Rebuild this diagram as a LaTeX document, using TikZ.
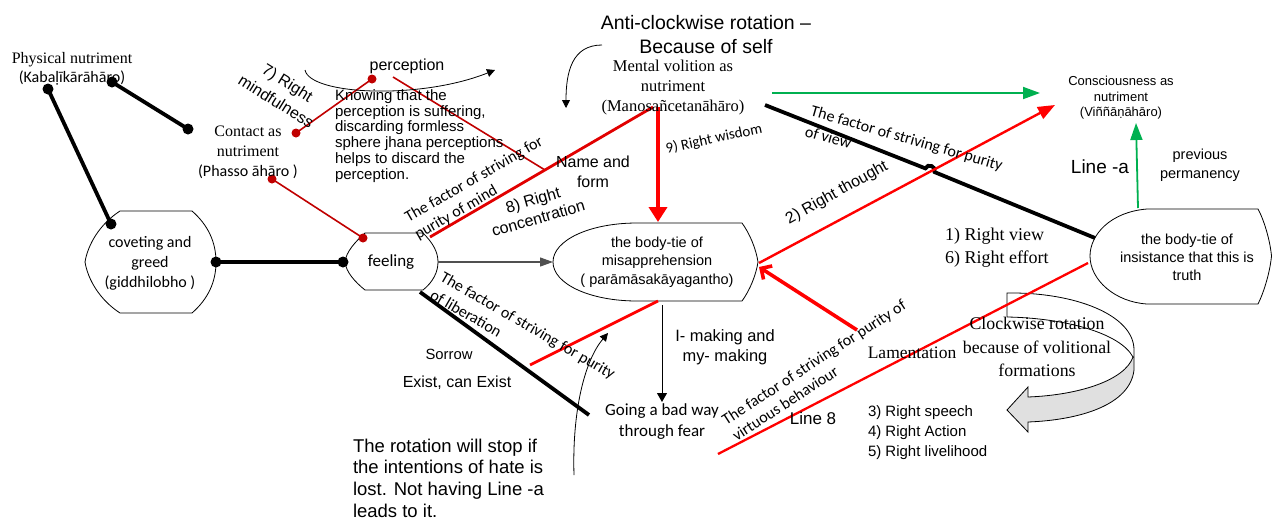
\documentclass[tikz,border=0pt]{standalone}
\usepackage{fontspec}
\setmainfont{Liberation Serif}
\newfontfamily\arialf{Liberation Sans}
\newfontfamily\calf{Carlito}
\usetikzlibrary{arrows.meta}
\newcommand\fsz[2]{\fontsize{#1}{#2}\selectfont}
\definecolor{dred}{RGB}{192,0,0}
\definecolor{bred}{RGB}{255,0,0}
\definecolor{mred}{RGB}{225,0,0}
\definecolor{grn}{RGB}{0,176,80}
\definecolor{gfill}{RGB}{224,224,224}
\definecolor{dgray}{RGB}{80,80,80}
\begin{document}
\begin{tikzpicture}[x=1pt,y=-1pt,
  every node/.style={inner sep=0pt,outer sep=0pt},
  shapeline/.style={draw=black,line width=0.8pt},
  thickblack/.style={line width=3.8pt,black},
  dotb/.style={circle,fill=black,minimum size=11pt},
  dotr/.style={circle,fill=dred,minimum size=9pt},
  thinred/.style={dred,line width=1.6pt},
  greenarrow/.style={grn,line width=1.8pt,-{Triangle[length=17pt,width=12pt]}},
  thinarrow/.style={black,line width=0.8pt,-{Triangle[length=8pt,width=8pt]}},
]
\useasboundingbox (0,0) rectangle (1272,520);

% ---------- shapes ----------
% coveting and greed
\draw[shapeline] (120,211) -- (192,211) .. controls (208,225) and (216,242) .. (216,262)
  .. controls (216,282) and (208,299) .. (192,313) -- (120,313)
  .. controls (100,300) and (88,280) .. (85,262) .. controls (88,244) and (100,224) .. (120,211) -- cycle;
% feeling
\draw[shapeline] (365,233) -- (423,233) .. controls (433,243) and (438,252) .. (438,262)
  .. controls (438,272) and (433,282) .. (423,290) -- (365,290)
  .. controls (355,282) and (346,272) .. (345,262) .. controls (346,252) and (355,242) .. (365,233) -- cycle;
% misapprehension
\draw[shapeline] (637,223) .. controls (590,223) and (553,240) .. (553,262)
  .. controls (553,284) and (590,301) .. (637,301) -- (742,301)
  .. controls (750,290) and (756,275) .. (758,262) .. controls (756,249) and (750,234) .. (742,223) -- cycle;
% insistance
\draw[shapeline] (1147,209) .. controls (1110,212) and (1090,235) .. (1090,256)
  .. controls (1090,280) and (1115,302) .. (1147,304) -- (1258,304)
  .. controls (1264,292) and (1270,272) .. (1271.5,256) .. controls (1270,240) and (1264,220) .. (1258,209) -- cycle;

% clockwise curved block arrow
\fill[gfill] (1133,357) .. controls (1125,380) and (1080,395) .. (1028,397) -- (1028,387) -- (1007,410)
  -- (1028,432) -- (1028,422) .. controls (1080,420) and (1130,405) .. (1134,370) -- (1134,357) -- cycle;
\draw[shapeline] (1007,293) .. controls (1075,292) and (1134,315) .. (1134,350) -- (1134,370)
  .. controls (1130,405) and (1080,420) .. (1028,422) -- (1028,432) -- (1007,410) -- (1028,387)
  -- (1028,397) .. controls (1080,395) and (1125,380) .. (1133,357)
  .. controls (1120,333) and (1065,318) .. (1007,317) -- cycle;

% ---------- coordinates ----------
\coordinate (mentBL) at (653,107);
\coordinate (mentB) at (658,107);
\coordinate (mentR) at (765,105);
\coordinate (mentG) at (772,93);
\coordinate (conscL) at (1040,93);
\coordinate (conscB) at (1136,123);
\coordinate (conscR) at (1055,105);
\coordinate (insT) at (1138,208);
\coordinate (insL) at (1095,238);
\coordinate (insLL) at (1088,263);
\coordinate (misL) at (553,262);
\coordinate (misR) at (759,263);
\coordinate (misRt) at (759,267);
\coordinate (misT) at (658,222);
\coordinate (misB) at (662,305);
\coordinate (misBR) at (658,301);
\coordinate (feelR) at (438,262);
\coordinate (feelTR) at (430,237);
\coordinate (feelBR) at (420,292);
\coordinate (nfEnd) at (545,170);
\coordinate (percR) at (393,77);
\coordinate (libEnd) at (589,415);
\coordinate (libRed) at (530,365);
\coordinate (virtS) at (718,454);
\coordinate (lamS) at (857,330);
\coordinate (goingT) at (662,402);

% ---------- dots ----------
\node[dotb] (dK1) at (48,89) {};
\node[dotb] (dK2) at (112,82) {};
\node[dotb] (dC) at (188,129) {};
\node[dotb] (dCov) at (111,224) {};
\node[dotb] (dCovR) at (216,262) {};
\node[dotb] (dFeelL) at (343,262) {};
\node[dotr] (dM1) at (296,133) {};
\node[dotr] (dP) at (372,79) {};
\node[dotr] (dPh) at (272,179) {};
\node[dotr] (dFeel) at (363,238) {};

% ---------- black thick lines ----------
\draw[thickblack] (dK1.center) -- (dCov.center);
\draw[thickblack] (dK2.center) -- (dC.center);
\draw[thickblack] (dCovR.center) -- (dFeelL.center);
\draw[thickblack] (mentR) -- (925.4,168.4) .. controls (927.6,162.8) and (936.8,166.6) .. (934.6,172.1) -- (insL);
\draw[thickblack] (feelBR) -- (libEnd);

% ---------- red lines ----------
\draw[thinred] (dM1.center) -- (dP.center);
\draw[thinred] (dPh.center) -- (dFeel.center);
\draw[thinred] (percR) -- (nfEnd);
\draw[mred,line width=2.8pt] (feelTR) -- (mentBL);
\draw[bred,line width=3.8pt,-{Triangle[length=15pt,width=18pt]}] (mentB) -- (misT);
\draw[bred,line width=2.4pt,-{Triangle[length=17pt,width=13pt]}] (misR) -- (conscR);
\draw[bred,line width=3.6pt,-{Straight Barb[length=8pt,width=16pt]}] (lamS) -- (misRt);
\draw[bred,line width=2.8pt] (libRed) -- (misBR);
\draw[bred,line width=2.3pt] (virtS) -- (insLL);

% ---------- green ----------
\draw[greenarrow] (mentG) -- (conscL);
\draw[greenarrow] (insT) -- (conscB);

% ---------- thin arrows ----------
\draw[dgray,line width=1.2pt,-{Triangle[length=13pt,width=9pt]}] (feelR) -- (misL);
\draw[black,line width=1pt,-{Triangle[length=9pt,width=10pt]}] (misB) -- (goingT);
\coordinate (perArcS) at (305,70);
\coordinate (perArcE) at (495,70);
\draw[thinarrow] (perArcS) .. controls (310,95) and (420,100) .. (perArcE);
\coordinate (antiS) at (602,45);
\coordinate (antiE) at (566,108);
\draw[thinarrow] (antiS) .. controls (572,45) and (566,72) .. (antiE);
\coordinate (botS) at (574,475);
\coordinate (botE) at (608,333);
\draw[thinarrow] (botS) .. controls (572,410) and (585,360) .. (botE);

% ---------- texts ----------
\node[font=\fsz{16}{19},align=center] (phys) at (72,69) {Physical nutriment\\{\calf (Kabaḷīkārāhāro)}};
\node[font=\fsz{16}{20},align=center] (contact) at (248,152) {Contact as\\nutriment\\{\calf (Phasso āhāro )}};
\node[font=\arialf\fsz{16}{19}] (perc) at (407,66) {perception};
\node[font=\arialf\fsz{15}{15.8},align=left,anchor=west] (know) at (335,136) {Knowing that the\\perception is suffering,\\discarding formless\\sphere jhana perceptions\\helps to discard the\\perception.};
\node[font=\arialf\fsz{19.5}{24},align=center] (anti) at (706,35) {Anti-clockwise rotation –\\Because of self};
\node[font=\fsz{16.5}{20},align=center] (mental) at (673,88) {Mental volition as\\nutriment\\(Manosañcetanāhāro)};
\node[font=\arialf\fsz{13}{15.5},align=center] (consc) at (1121,98) {Consciousness as\\nutriment\\(Viññāṇāhāro)};
\node[font=\arialf\fsz{19}{22}] (linea) at (1100,167) {Line -a};
\node[font=\arialf\fsz{14.5}{19},align=center] (prev) at (1200,165) {previous\\permanency};
\node[font=\arialf\fsz{16}{20},align=center] (namef) at (593,172) {Name and\\form};
\node[font=\calf\fsz{16}{20},align=center] (covt) at (150,263) {coveting and\\greed\\(giddhilobho )};
\node[font=\calf\fsz{17}{20}] (feelt) at (391,262) {feeling};
\node[font=\arialf\fsz{14.5}{18.5},align=center] (mist) at (657,262) {the body-tie of\\misapprehension\\( parāmāsakāyagantho)};
\node[font=\arialf\fsz{14.5}{18},align=center] (inst) at (1187,257) {the body-tie of\\insistance that this is\\truth};
\node[font=\fsz{18}{23},align=left,anchor=west] (rv) at (945,248) {1) Right view\\6) Right effort};
\node[font=\fsz{17.5}{20}] (lam) at (912,353) {Lamentation};
\node[font=\fsz{17.8}{23.5},align=center] (clock) at (1037,347) {Clockwise rotation\\because of volitional\\formations};
\node[font=\arialf\fsz{15}{20},align=left,anchor=west] (rs) at (868,433) {3) Right speech\\4) Right Action\\5) Right livelihood};
\node[font=\arialf\fsz{17}{20}] (line8) at (813,418) {Line 8};
\node[font=\arialf\fsz{16.4}{20},align=center] (imak) at (725,347) {I- making and\\my- making};
\node[font=\calf\fsz{17}{21},align=center] (going) at (662,422) {Going a bad way\\through fear};
\node[font=\arialf\fsz{14.8}{18}] (sorrow) at (449,354) {Sorrow};
\node[font=\arialf\fsz{16}{19}] (exist) at (457,383) {Exist, can Exist};
\node[font=\arialf\fsz{18.5}{21.7},align=left,anchor=west] (stop) at (353,478) {The rotation will stop if\\the intentions of hate is\\lost. Not having Line -a\\leads to it.};

% rotated labels
\node[font=\arialf\fsz{16}{21.7},align=center,rotate=-32] (mind7) at (282,92) {7) Right\\mindfulness};
\node[font=\calf\fsz{16}{19.6},align=left,rotate=30] (fmind) at (479,188.5) {The factor of striving for\\purity of mind};
\node[font=\arialf\fsz{16}{19},align=center,rotate=16] (conc8) at (535.5,209) {8) Right\\concentration};
\node[font=\calf\fsz{15}{18},rotate=12] (wis9) at (714,139) {9) Right wisdom};
\node[font=\calf\fsz{16}{21},align=left,rotate=-16] (fview) at (904,148) {The factor of striving for purity\\of view};
\node[font=\arialf\fsz{16}{19},rotate=29] (th2) at (837,193) {2) Right thought};
\node[font=\calf\fsz{16}{20.5},align=left,rotate=-30] (flib) at (523,334) {The factor of striving for purity\\of liberation};
\node[font=\calf\fsz{16}{19},align=left,rotate=33] (fvirt) at (819,370) {The factor of striving for purity of\\virtuous behaviour};
\end{tikzpicture}
\end{document}
